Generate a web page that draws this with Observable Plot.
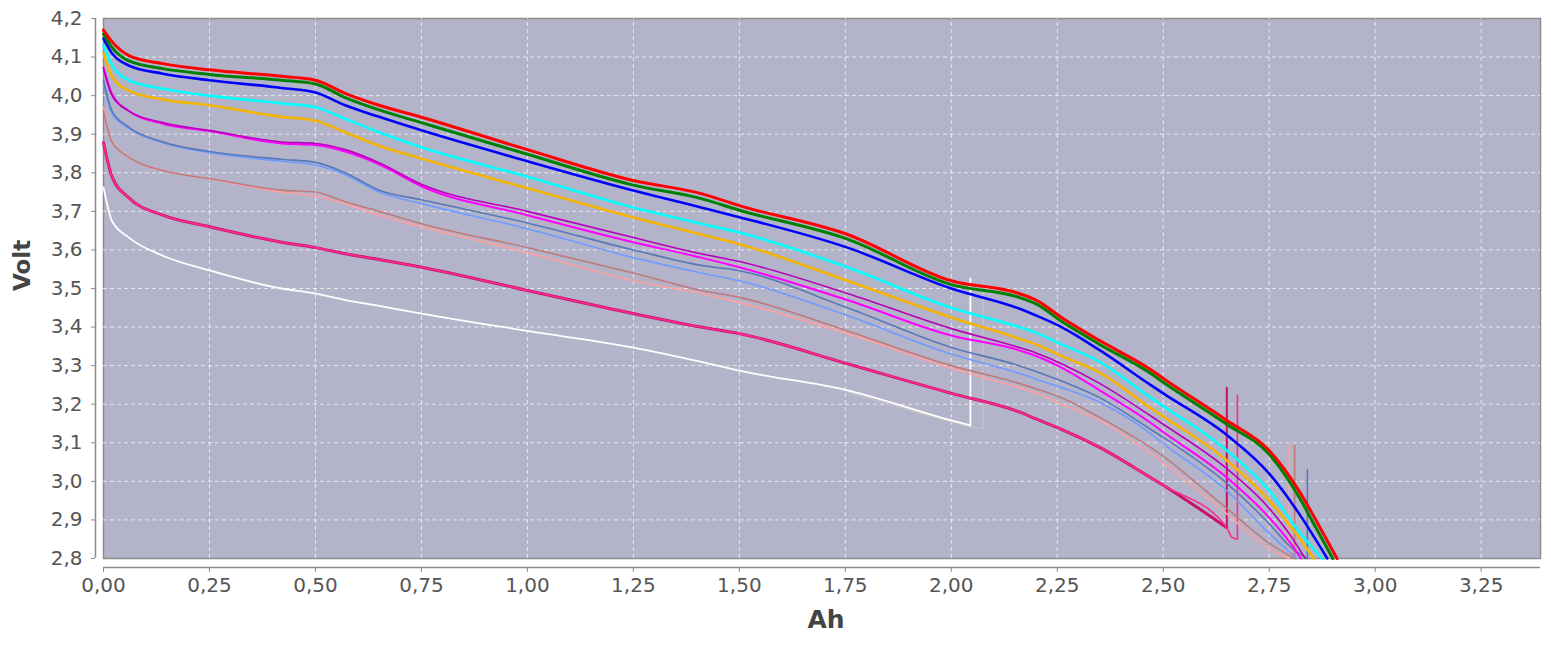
<!DOCTYPE html>
<html><head><meta charset="utf-8">
<script src="https://cdn.jsdelivr.net/npm/d3@7"></script>
<script src="https://cdn.jsdelivr.net/npm/@observablehq/plot@0.6"></script>
<style>body{margin:0;background:#fff;} #chart{width:1551px;height:645px;overflow:hidden;}</style>
</head><body><div id="chart"></div>
<script>
// Tick labels / axes
const xTicks = [0, 0.25, 0.5, 0.75, 1, 1.25, 1.5, 1.75, 2, 2.25, 2.5, 2.75, 3, 3.25];
const yTicks = [2.8, 2.9, 3.0, 3.1, 3.2, 3.3, 3.4, 3.5, 3.6, 3.7, 3.8, 3.9, 4.0, 4.1, 4.2];
const xDomain = [0, 3.39];
const yDomain = [2.8, 4.2];

// Shared capacity grid (Ah)
const ahGrid = [0, 0.02, 0.06, 0.14, 0.25, 0.42, 0.5, 0.57, 0.65, 0.75, 1.0, 1.25, 1.41, 1.5, 1.755, 2.0, 2.16, 2.2, 2.26, 2.35, 2.47, 2.5, 2.65, 2.75];

// Voltage series (Volt) on ahGrid, null = not present
const vRed     = [4.17, 4.14, 4.104, 4.083, 4.067, 4.05, 4.04, 4.006, 3.975, 3.944, 3.86, 3.78, 3.746, 3.715, 3.64, 3.52, 3.487, 3.47, 3.425, 3.365, 3.29, 3.267, 3.158, 3.08];
const vGreen   = [4.16, 4.125, 4.09, 4.07, 4.055, 4.04, 4.03, 3.995, 3.963, 3.93, 3.848, 3.768, 3.733, 3.703, 3.628, 3.51, 3.477, 3.46, 3.415, 3.355, 3.28, 3.257, 3.148, 3.07];
const vBlue    = [4.148, 4.11, 4.078, 4.057, 4.04, 4.02, 4.008, 3.975, 3.945, 3.91, 3.83, 3.754, 3.71, 3.685, 3.606, 3.5, 3.448, 3.43, 3.4, 3.34, 3.25, 3.228, 3.12, 3.02];
const vCyan    = [4.13, 4.08, 4.04, 4.018, 4.0, 3.98, 3.97, 3.94, 3.905, 3.866, 3.79, 3.71, 3.668, 3.645, 3.555, 3.45, 3.4, 3.385, 3.355, 3.31, 3.217, 3.195, 3.08, 2.976];
const vOrange  = [4.11, 4.05, 4.013, 3.99, 3.975, 3.945, 3.935, 3.905, 3.87, 3.837, 3.76, 3.684, 3.64, 3.615, 3.52, 3.425, 3.37, 3.355, 3.325, 3.282, 3.19, 3.168, 3.054, 2.95];
const vPurple  = [4.07, 4.0, 3.96, 3.93, 3.91, 3.88, 3.876, 3.86, 3.826, 3.77, 3.70, 3.632, 3.59, 3.57, 3.487, 3.396, 3.347, 3.333, 3.305, 3.254, 3.17, 3.148, 3.033, 2.93];
const vMagenta = [4.073, 4.005, 3.96, 3.927, 3.908, 3.876, 3.872, 3.855, 3.822, 3.765, 3.69, 3.62, 3.58, 3.555, 3.47, 3.378, 3.34, 3.325, 3.295, 3.236, 3.152, 3.128, 3.01, 2.906];
const vSteel   = [4.04, 3.96, 3.918, 3.88, 3.855, 3.835, 3.827, 3.80, 3.755, 3.73, 3.67, 3.6, 3.56, 3.546, 3.45, 3.347, 3.3, 3.285, 3.26, 3.217, 3.135, 3.114, 2.995, 2.89];
const vCorn    = [4.03, 3.955, 3.915, 3.878, 3.852, 3.83, 3.82, 3.795, 3.75, 3.72, 3.655, 3.58, 3.54, 3.52, 3.43, 3.33, 3.28, 3.265, 3.243, 3.205, 3.124, 3.098, 2.976, 2.865];
const vBrown   = [3.96, 3.88, 3.84, 3.806, 3.785, 3.755, 3.75, 3.725, 3.70, 3.668, 3.606, 3.54, 3.495, 3.477, 3.39, 3.3, 3.254, 3.24, 3.217, 3.166, 3.088, 3.065, 2.93, 2.84];
const vSalmon  = [3.97, 3.883, 3.84, 3.806, 3.785, 3.75, 3.74, 3.72, 3.69, 3.66, 3.593, 3.52, 3.487, 3.464, 3.383, 3.293, 3.243, 3.23, 3.2, 3.158, 3.072, 3.048, 2.916, 2.825];
const vCrimson = [3.878, 3.79, 3.735, 3.69, 3.66, 3.62, 3.606, 3.59, 3.575, 3.555, 3.495, 3.435, 3.4, 3.383, 3.305, 3.228, 3.18, 3.162, 3.135, 3.088, 3.01, 2.99, 2.88, null];
const vPink    = [3.878, 3.79, 3.735, 3.69, 3.66, 3.62, 3.606, 3.59, 3.575, 3.555, 3.495, 3.435, 3.4, 3.383, 3.305, 3.228, 3.18, 3.162, 3.135, 3.088, 3.01, 2.99, 2.88, null];
const vWhite   = [3.762, 3.675, 3.632, 3.585, 3.547, 3.5, 3.487, 3.47, 3.455, 3.435, 3.39, 3.347, 3.31, 3.287, 3.236, 3.158, null, null, null, null, null, null, null, null];
const vGray    = [null, null, null, null, null, null, null, null, null, null, null, null, null, null, 3.232, 3.154, null, null, null, null, null, null, null, null];

// End-of-discharge tails (Ah, Volt) and rebound spike tops (Volt, null = none)
const tRedAh = [2.82, 2.87, 2.91],     tRedV = [2.976, 2.88, 2.80],     sRed = null;
const tGreenAh = [2.82, 2.86, 2.90],   tGreenV = [2.96, 2.88, 2.80],    sGreen = null;
const tBlueAh = [2.82, 2.887],         tBlueV = [2.917, 2.80],          sBlue = null;
const tCyanAh = [2.82, 2.875],         tCyanV = [2.87, 2.80],           sCyan = null;
const tOrangeAh = [2.82, 2.855],       tOrangeV = [2.855, 2.80],        sOrange = null;
const tPurpleAh = [2.80, 2.835],       tPurpleV = [2.86, 2.80],         sPurple = null;
const tMagentaAh = [2.80, 2.825],      tMagentaV = [2.84, 2.80],        sMagenta = null;
const tSteelAh = [2.80, 2.84],         tSteelV = [2.83, 2.80],          sSteel = 3.03;
const tCornAh = [2.815],               tCornV = [2.80],                 sCorn = null;
const tBrownAh = [2.81],               tBrownV = [2.80],                sBrown = 3.093;
const tSalmonAh = [2.797],             tSalmonV = [2.80],               sSalmon = 3.10;
const tCrimsonAh = [],                 tCrimsonV = [],                  sCrimson = 3.243;
const tPinkAh = [2.662, 2.675],        tPinkV = [2.855, 2.85],          sPink = 3.223;
const tWhiteAh = [2.045],              tWhiteV = [3.145],               sWhite = 3.526;
const tGrayAh = [2.045, 2.075],        tGrayV = [3.141, 3.137],         sGray = 3.52;

const series = [
  {v: vGray,    tAh: tGrayAh,    tV: tGrayV,    spike: sGray,    color: "#c4c4c4", w: 1.2},
  {v: vWhite,   tAh: tWhiteAh,   tV: tWhiteV,   spike: sWhite,   color: "#ffffff", w: 1.8},
  {v: vCrimson, tAh: tCrimsonAh, tV: tCrimsonV, spike: sCrimson, color: "#c8106a", w: 3},
  {v: vPink,    tAh: tPinkAh,    tV: tPinkV,    spike: sPink,    color: "#ff2a92", w: 1.6},
  {v: vSalmon,  tAh: tSalmonAh,  tV: tSalmonV,  spike: sSalmon,  color: "#ffa0a0", w: 1.6},
  {v: vBrown,   tAh: tBrownAh,   tV: tBrownV,   spike: sBrown,   color: "#c07a7a", w: 1.6},
  {v: vCorn,    tAh: tCornAh,    tV: tCornV,    spike: sCorn,    color: "#6f9cff", w: 1.6},
  {v: vSteel,   tAh: tSteelAh,   tV: tSteelV,   spike: sSteel,   color: "#5878b8", w: 1.6},
  {v: vMagenta, tAh: tMagentaAh, tV: tMagentaV, spike: sMagenta, color: "#ff00ff", w: 2},
  {v: vPurple,  tAh: tPurpleAh,  tV: tPurpleV,  spike: sPurple,  color: "#b800b8", w: 1.6},
  {v: vOrange,  tAh: tOrangeAh,  tV: tOrangeV,  spike: sOrange,  color: "#f5b400", w: 2.6},
  {v: vCyan,    tAh: tCyanAh,    tV: tCyanV,    spike: sCyan,    color: "#00ffff", w: 2.6},
  {v: vBlue,    tAh: tBlueAh,    tV: tBlueV,    spike: sBlue,    color: "#0000ff", w: 2.6},
  {v: vGreen,   tAh: tGreenAh,   tV: tGreenV,   spike: sGreen,   color: "#008000", w: 3},
  {v: vRed,     tAh: tRedAh,     tV: tRedV,     spike: sRed,     color: "#ff0000", w: 3}
];

function pts(s) {
  const out = [];
  ahGrid.forEach((a, i) => { if (s.v[i] != null) out.push({ah: a, v: s.v[i]}); });
  s.tAh.forEach((a, i) => out.push({ah: a, v: s.tV[i]}));
  return out;
}
function spikePts(s) {
  const p = pts(s), last = p[p.length - 1];
  return [last, {ah: last.ah, v: s.spike}];
}

const comma = (d, n) => d.toFixed(n).replace(".", ",");
const bg = "#b3b3c9";

const lineMarks = [];
for (const s of series) {
  lineMarks.push(Plot.line(pts(s), {x: "ah", y: "v", stroke: s.color, strokeWidth: s.w, curve: "monotone-x"}));
  if (s.spike != null) lineMarks.push(Plot.line(spikePts(s), {x: "ah", y: "v", stroke: s.color, strokeWidth: Math.min(s.w, 2), curve: "linear"}));
}

const chart = Plot.plot({
  width: 1551, height: 645,
  marginLeft: 95, marginRight: 11, marginTop: 18, marginBottom: 78,
  style: {fontFamily: "DejaVu Sans, Verdana, sans-serif", fontSize: "20px", color: "#555", background: "white", overflow: "visible"},
  x: {domain: xDomain, insetLeft: 8},
  y: {domain: yDomain, insetBottom: 9},
  marks: [
    Plot.frame({fill: bg, stroke: "#8c8c8c", strokeWidth: 1.5, insetLeft: 8, insetBottom: 9}),
    Plot.ruleX(xTicks.slice(1), {y1: yDomain[0], y2: yDomain[1], stroke: "#ffffff", strokeOpacity: 0.7, strokeDasharray: "4,3"}),
    Plot.ruleY(yTicks.slice(1, -1), {x1: xDomain[0], x2: xDomain[1], stroke: "#ffffff", strokeOpacity: 0.7, strokeDasharray: "4,3"}),
    ...lineMarks,
    Plot.ruleY([yDomain[0]], {x1: xDomain[0], x2: xDomain[1], dy: 9, stroke: "#8c8c8c", strokeWidth: 1.5}),
    Plot.ruleX([xDomain[0]], {y1: yDomain[0], y2: yDomain[1], dx: -8, stroke: "#8c8c8c", strokeWidth: 1.5}),
    Plot.axisX({ticks: xTicks, tickFormat: d => comma(d, 2), tickSize: 5, tickPadding: 5, stroke: "#8c8c8c", fill: "#555", label: null}),
    Plot.axisY({ticks: yTicks, tickFormat: d => comma(d, 1), tickSize: 4, tickPadding: 9, stroke: "#8c8c8c", fill: "#555", label: null}),
    Plot.text(["Ah"], {frameAnchor: "bottom", text: d => d, dx: 8, dy: 60, lineAnchor: "bottom", fontSize: 25, fontWeight: "bold", fill: "#444"}),
    Plot.text(["Volt"], {frameAnchor: "left", text: d => d, dx: -73, dy: -2, rotate: -90, fontSize: 23, fontWeight: "bold", fill: "#444"})
  ]
});
document.getElementById("chart").append(chart);
</script></body></html>
